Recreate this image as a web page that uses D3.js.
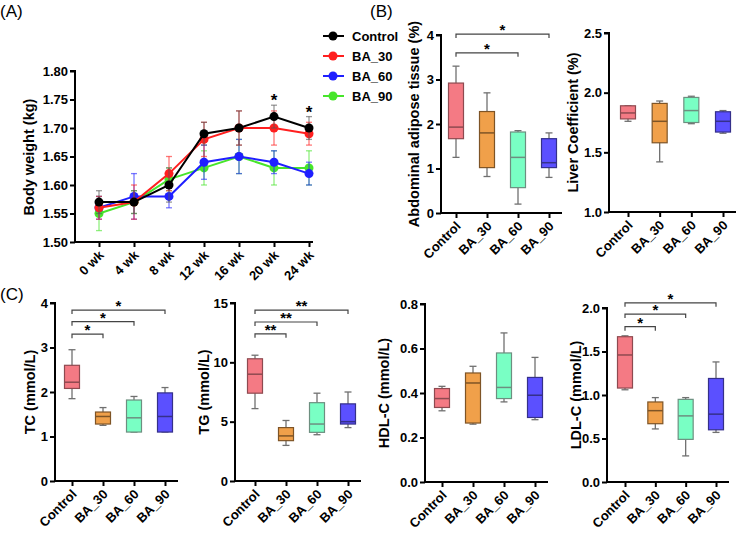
<!DOCTYPE html>
<html>
<head>
<meta charset="utf-8">
<script src="https://cdn.jsdelivr.net/npm/d3@7"></script>
<style>
body{margin:0;background:#fff;}
svg text{font-family:"Liberation Sans",Arial,sans-serif;}
</style>
</head>
<body>
<svg id="svgCanvas" width="740" height="533"></svg>
<script>
// ---- data ----
var weeks = ["0 wk","4 wk","8 wk","12 wk","16 wk","20 wk","24 wk"];
var groups = ["Control","BA_30","BA_60","BA_90"];
var bwControl = [1.57,1.57,1.60,1.69,1.70,1.72,1.70];
var bwControlErr = [0.02,0.02,0.03,0.02,0.03,0.02,0.02];
var bwBA30 = [1.56,1.57,1.62,1.68,1.70,1.70,1.69];
var bwBA30Err = [0.02,0.03,0.03,0.03,0.03,0.03,0.02];
var bwBA60 = [1.56,1.58,1.58,1.64,1.65,1.64,1.62];
var bwBA60Err = [0.02,0.04,0.02,0.03,0.03,0.02,0.02];
var bwBA90 = [1.55,1.57,1.61,1.63,1.65,1.63,1.63];
var bwBA90Err = [0.03,0.02,0.02,0.03,0.03,0.03,0.03];
var bwStars = ["","","","","","*","*"];
var bwTicks = [1.50,1.55,1.60,1.65,1.70,1.75,1.80];

// box stats: [min, q1, median, q3, max]
var abdominal = [[1.25,1.67,1.93,2.92,3.3],[0.82,1.02,1.8,2.28,2.7],[0.2,0.57,1.25,1.82,1.85],[0.8,1.02,1.13,1.67,1.8]];
var liver = [[1.76,1.78,1.83,1.89,1.89],[1.42,1.58,1.76,1.91,1.93],[1.74,1.75,1.85,1.96,1.97],[1.66,1.67,1.76,1.84,1.85]];
var tc = [[1.85,2.08,2.22,2.6,2.95],[1.25,1.28,1.45,1.55,1.65],[1.1,1.1,1.42,1.82,1.9],[1.1,1.1,1.45,1.98,2.1]];
var tg = [[6.1,7.4,9.0,10.3,10.6],[3.0,3.4,3.8,4.5,5.1],[3.9,4.1,4.8,6.6,7.4],[4.5,4.8,5.0,6.5,7.5]];
var hdl = [[0.32,0.335,0.375,0.42,0.43],[0.26,0.265,0.445,0.49,0.52],[0.36,0.375,0.425,0.58,0.67],[0.28,0.29,0.39,0.47,0.56]];
var ldl = [[1.06,1.08,1.46,1.67,1.68],[0.61,0.67,0.82,0.92,0.97],[0.3,0.49,0.76,0.95,0.97],[0.57,0.6,0.78,1.19,1.38]];

// significance brackets: [from, to, value level, label]
var abdominalSig = [["Control","BA_60",3.6,"*"],["Control","BA_90",4.02,"*"]];
var tcSig = [["Control","BA_30",3.3,"*"],["Control","BA_60",3.58,"*"],["Control","BA_90",3.84,"*"]];
var tgSig = [["Control","BA_30",12.4,"**"],["Control","BA_60",13.4,"**"],["Control","BA_90",14.4,"**"]];
var ldlSig = [["Control","BA_30",1.785,"*"],["Control","BA_60",1.93,"*"],["Control","BA_90",2.06,"*"]];

var lineColors = {"Control":"#000000","BA_30":"#ff1f1f","BA_60":"#1f1fff","BA_90":"#47e52b"};
var boxFill = {"Control":"#f47a84","BA_30":"#f0a04a","BA_60":"#79ffc4","BA_90":"#5b50ff"};
var boxStroke = {"Control":"#8e4a50","BA_30":"#7e5426","BA_60":"#6d8f80","BA_90":"#35308a"};

var svg = d3.select("#svgCanvas");

function panelLabel(t, x, y){
  svg.append("text").attr("x",x).attr("y",y).attr("font-size",17).text(t);
}
panelLabel("(A)",0,17);
panelLabel("(B)",370,17);
panelLabel("(C)",0,300);

function styleAxis(g){
  g.selectAll("path,line").attr("stroke","#000").attr("stroke-width",2);
  g.selectAll("text").attr("font-size",13).attr("font-weight","bold").attr("fill","#000")
   .style("font-family","Liberation Sans, Arial, sans-serif");
}

function yLabel(text, x, y){
  svg.append("text").attr("transform","translate("+x+","+y+") rotate(-90)")
    .attr("text-anchor","middle").attr("dy","0.35em")
    .attr("font-size",14.5).attr("font-weight","bold").text(text);
}

// ---- panel A ----
(function(){
  var x = d3.scalePoint().domain(weeks).range([99,309]);
  var y = d3.scaleLinear().domain([1.5,1.8]).range([242,71]);
  var axX = 75;
  var gy = svg.append("g").attr("transform","translate("+axX+",0)")
    .call(d3.axisLeft(y).tickValues(bwTicks).tickFormat(d3.format(".2f")).tickSize(5).tickPadding(2));
  styleAxis(gy);
  gy.select(".domain").attr("d","M-5,71H0V243");
  var gx = svg.append("g").attr("transform","translate(0,242)")
    .call(d3.axisBottom(x).tickSize(5).tickSizeOuter(0));
  styleAxis(gx);
  gx.select(".domain").attr("d","M"+(axX-1)+",0H313");
  gx.selectAll(".tick text").attr("text-anchor","end").attr("dy",0).attr("y",0)
    .attr("transform","translate(5,14) rotate(-45)");
  yLabel("Body weight (kg)", 29, 157);

  var series = [
    {name:"BA_90", v:bwBA90, e:bwBA90Err},
    {name:"BA_60", v:bwBA60, e:bwBA60Err},
    {name:"BA_30", v:bwBA30, e:bwBA30Err},
    {name:"Control", v:bwControl, e:bwControlErr}
  ];
  var line = d3.line().x(function(d,i){return x(weeks[i]);}).y(function(d){return y(d);});
  series.forEach(function(s){
    var c = lineColors[s.name];
    var ec = s.name==="Control" ? "#555" : c;
    var g = svg.append("g");
    s.v.forEach(function(v,i){
      var cx = x(weeks[i]);
      var eg = g.append("g").attr("stroke",ec).attr("stroke-opacity",0.6).attr("stroke-width",1.3);
      eg.append("line").attr("x1",cx).attr("x2",cx).attr("y1",y(v - s.e[i])).attr("y2",y(v + s.e[i]));
      eg.append("line").attr("x1",cx-3).attr("x2",cx+3).attr("y1",y(v + s.e[i])).attr("y2",y(v + s.e[i]));
      eg.append("line").attr("x1",cx-3).attr("x2",cx+3).attr("y1",y(v - s.e[i])).attr("y2",y(v - s.e[i]));
    });
    g.append("path").datum(s.v).attr("d",line).attr("fill","none").attr("stroke",c).attr("stroke-width",2);
    g.selectAll("circle").data(s.v).enter().append("circle")
      .attr("cx",function(d,i){return x(weeks[i]);}).attr("cy",function(d){return y(d);})
      .attr("r",4.5).attr("fill",c);
  });
  bwStars.forEach(function(st,i){
    if(!st) return;
    svg.append("text").attr("x",x(weeks[i])).attr("y",y(bwControl[i]+bwControlErr[i])+1)
      .attr("text-anchor","middle").attr("font-size",17).attr("font-weight","bold").text(st);
  });
  // legend
  var lg = svg.append("g");
  groups.forEach(function(gname,i){
    var ly = 36 + i*20;
    lg.append("line").attr("x1",323).attr("x2",344).attr("y1",ly).attr("y2",ly)
      .attr("stroke",lineColors[gname]).attr("stroke-width",2);
    lg.append("circle").attr("cx",333).attr("cy",ly).attr("r",4.5).attr("fill",lineColors[gname]);
    lg.append("text").attr("x",352).attr("y",ly).attr("dy","0.35em")
      .attr("font-size",13).attr("font-weight","bold").text(gname);
  });
})();

// ---- box plot panels ----
function boxPanel(cfg){
  var x = d3.scalePoint().domain(groups).range([cfg.c0, cfg.c1]);
  var y = d3.scaleLinear().domain(cfg.domain).range([cfg.yb, cfg.yt]);
  var gy = svg.append("g").attr("transform","translate("+cfg.ax+",0)")
    .call(d3.axisLeft(y).tickValues(cfg.ticks).tickFormat(d3.format(cfg.fmt)).tickSize(5).tickPadding(2));
  styleAxis(gy);
  gy.select(".domain").attr("d","M-5,"+cfg.yt+"H0V"+(cfg.yb+1));
  var gx = svg.append("g").attr("transform","translate(0,"+cfg.yb+")")
    .call(d3.axisBottom(x).tickSize(5).tickSizeOuter(0));
  styleAxis(gx);
  gx.select(".domain").attr("d","M"+(cfg.ax-1)+",0H"+(cfg.c1+13));
  gx.selectAll(".tick text").attr("text-anchor","end").attr("dy",0).attr("y",0)
    .attr("transform","translate(5,14) rotate(-45)");
  yLabel(cfg.label, cfg.lx, (cfg.yt+cfg.yb)/2);

  var bw = 15, cw = 7;
  cfg.data.forEach(function(st,i){
    var gname = groups[i], cx = x(gname);
    var g = svg.append("g");
    var wc = "#707070";
    g.append("line").attr("x1",cx).attr("x2",cx).attr("y1",y(st[0])).attr("y2",y(st[4]))
      .attr("stroke",wc).attr("stroke-width",1.3);
    [st[0],st[4]].forEach(function(v){
      g.append("line").attr("x1",cx-cw/2).attr("x2",cx+cw/2).attr("y1",y(v)).attr("y2",y(v))
        .attr("stroke",wc).attr("stroke-width",1.3);
    });
    g.append("rect").attr("x",cx-bw/2).attr("width",bw)
      .attr("y",y(st[3])).attr("height",Math.max(1,y(st[1])-y(st[3])))
      .attr("fill",boxFill[gname]).attr("stroke",boxStroke[gname]).attr("stroke-width",1.2);
    g.append("line").attr("x1",cx-bw/2).attr("x2",cx+bw/2).attr("y1",y(st[2])).attr("y2",y(st[2]))
      .attr("stroke",boxStroke[gname]).attr("stroke-width",1.5);
  });
  (cfg.sig||[]).forEach(function(s){
    var x1 = x(s[0]), x2 = x(s[1]), yy = y(s[2]);
    svg.append("path").attr("d","M"+x1+","+(yy+4)+"V"+yy+"H"+x2+"V"+(yy+4))
      .attr("fill","none").attr("stroke","#444").attr("stroke-width",1.2);
    svg.append("text").attr("x",(x1+x2)/2).attr("y",yy+1).attr("text-anchor","middle")
      .attr("font-size",15).attr("font-weight","bold").text(s[3]);
  });
}

boxPanel({ax:441, yt:35, yb:213, domain:[0,4], ticks:[0,1,2,3,4], fmt:"d", c0:456, c1:549,
  data:abdominal, sig:abdominalSig, label:"Abdominal adipose tissue (%)", lx:414});
boxPanel({ax:609, yt:33, yb:212, domain:[1.0,2.5], ticks:[1.0,1.5,2.0,2.5], fmt:".1f", c0:628, c1:723,
  data:liver, label:"Liver Coefficient (%)", lx:573});
boxPanel({ax:55, yt:303, yb:481, domain:[0,4], ticks:[0,1,2,3,4], fmt:"d", c0:72, c1:165,
  data:tc, sig:tcSig, label:"TC (mmol/L)", lx:30});
boxPanel({ax:235, yt:303, yb:481, domain:[0,15], ticks:[0,5,10,15], fmt:"d", c0:255, c1:348,
  data:tg, sig:tgSig, label:"TG (mmol/L)", lx:204});
boxPanel({ax:425, yt:304, yb:482, domain:[0,0.8], ticks:[0,0.2,0.4,0.6,0.8], fmt:".1f", c0:442, c1:535,
  data:hdl, label:"HDL-C (mmol/L)", lx:384});
boxPanel({ax:607, yt:308, yb:482, domain:[0,2], ticks:[0,0.5,1.0,1.5,2.0], fmt:".1f", c0:625, c1:716,
  data:ldl, sig:ldlSig, label:"LDL-C (mmol/L)", lx:576});
</script>
</body>
</html>
